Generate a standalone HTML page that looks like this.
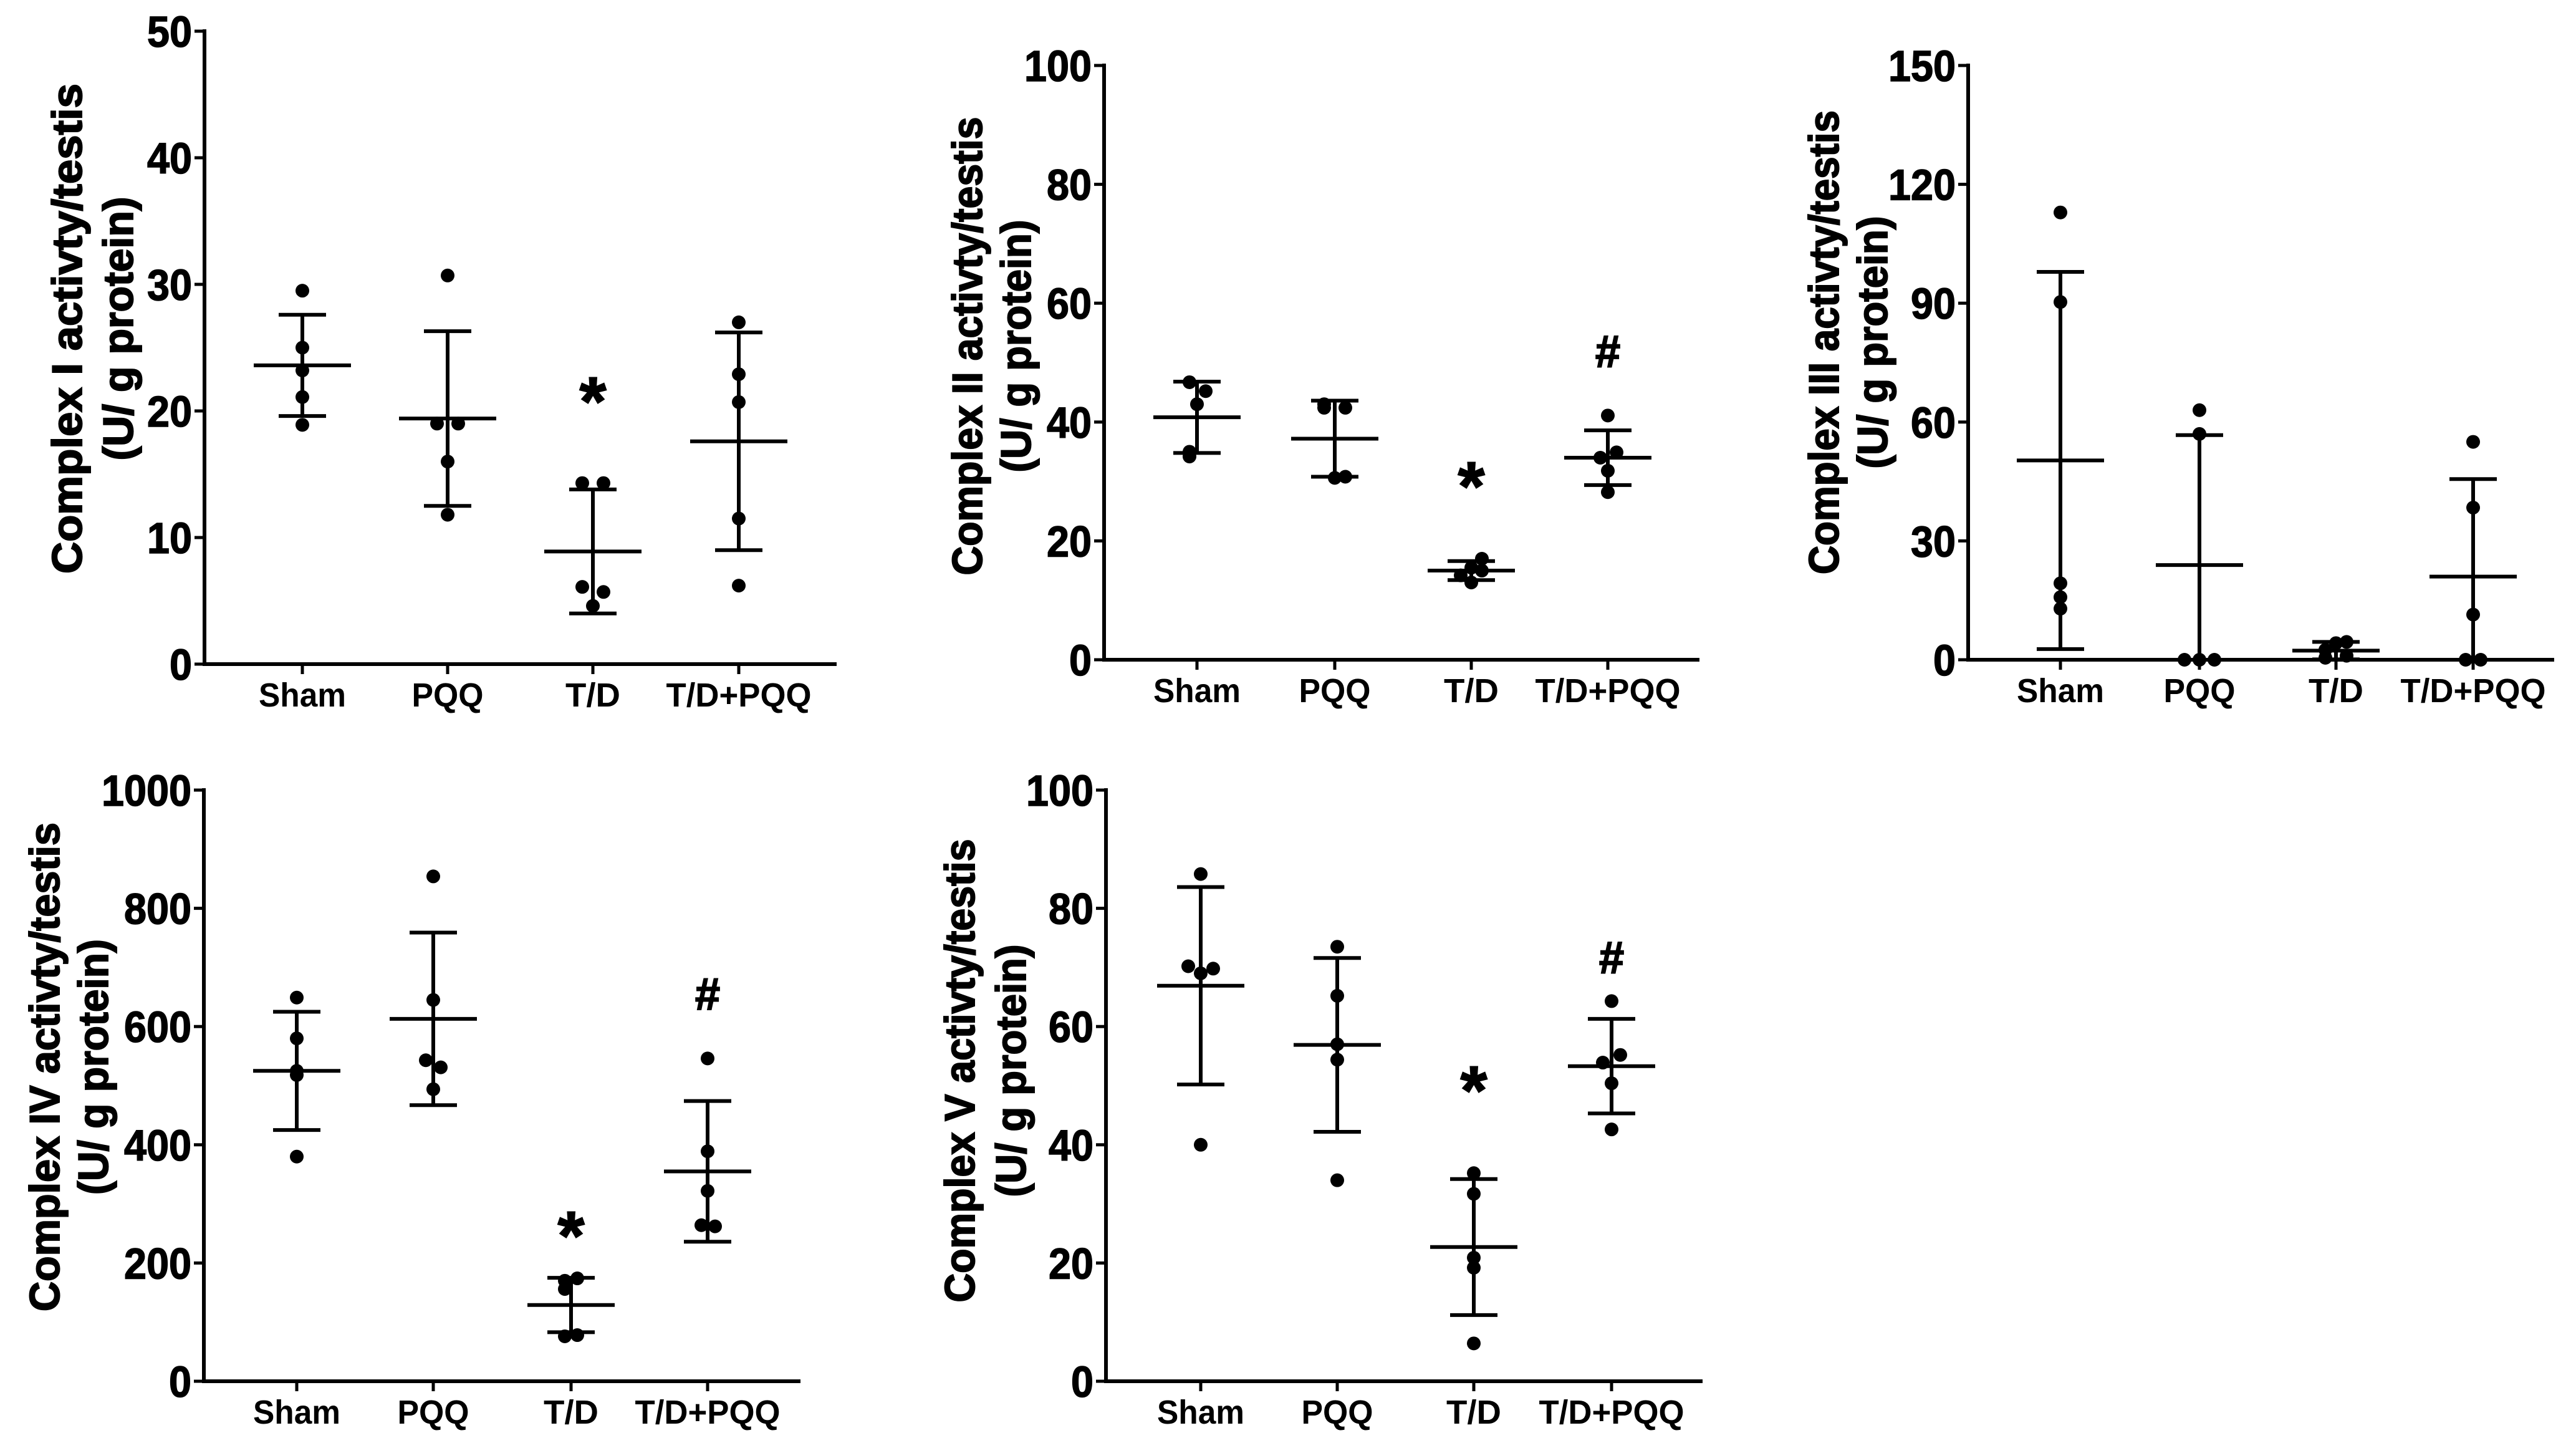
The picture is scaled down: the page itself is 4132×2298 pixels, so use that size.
<!DOCTYPE html>
<html><head><meta charset="utf-8"><style>
html,body{margin:0;padding:0;background:#fff;}
svg{display:block;}
</style></head><body>
<svg id="fig" xmlns="http://www.w3.org/2000/svg" width="4132" height="2298" viewBox="0 0 4132 2298"></svg>
<script>
const categories = ["Sham","PQQ","T/D","T/D+PQQ"];

const p1Points = [[29.5,25.0,23.2,21.1,18.9],[30.7,19.0,19.0,16.0,11.8],[14.3,14.3,6.1,5.7,4.6],[27.0,22.9,20.7,11.5,6.2]];
const p1Means = [23.6,19.4,8.9,17.6];
const p1Sd = [4.0,6.9,4.9,8.6];
const p1Ticks = [0,10,20,30,40,50];
const p1Marks = ["","","*",""];
const p1MarkVals = [0,0,21.6,0];

const p2Points = [[46.7,45.2,43.0,35.0,34.2],[43.0,42.4,42.4,30.8,30.6],[17.0,15.5,15.0,14.2,13.0],[41.1,34.9,34.0,31.8,28.2]];
const p2Means = [40.8,37.2,15.0,34.0];
const p2Sd = [6.0,6.4,1.6,4.6];
const p2Ticks = [0,20,40,60,80,100];
const p2Marks = ["","","*","#"];
const p2MarkVals = [0,0,31,52];

const p3Points = [[112.9,90.3,19.3,15.8,12.9],[63.0,57.0,0,0,0],[4.5,4.2,2.5,1.0,0.5],[55.0,38.4,11.4,0,0]];
const p3Means = [50.3,23.9,2.3,21.0];
const p3Sd = [47.6,32.8,2.2,24.6];
const p3Ticks = [0,30,60,90,120,150];
const p3Marks = ["","","",""];
const p3MarkVals = [0,0,0,0];

const p4Points = [[649,580,525,518,380],[854,645,543,531,494],[174,170,156,78,76],[546,389,322,264,262]];
const p4Means = [525,613,129,355];
const p4Sd = [100,146,46,119];
const p4Ticks = [0,200,400,600,800,1000];
const p4Marks = ["","","*","#"];
const p4MarkVals = [0,0,264,656];

const p5Points = [[85.8,70.2,69.8,69.0,40.0],[73.5,65.2,57.0,54.4,34.0],[35.2,31.7,20.9,19.2,6.4],[64.3,55.2,53.9,50.4,42.6]];
const p5Means = [66.9,56.9,22.7,53.3];
const p5Sd = [16.7,14.7,11.5,8.0];
const p5Ticks = [0,20,40,60,80,100];
const p5Marks = ["","","*","#"];
const p5MarkVals = [0,0,51,71.8];

const NS="http://www.w3.org/2000/svg";
const svg=document.getElementById('fig');
function mk(tag,attrs,parent){const e=document.createElementNS(NS,tag);for(const k in attrs)e.setAttribute(k,attrs[k]);(parent||svg).appendChild(e);return e;}

const panels=[
 {id:"complex-i",points:p1Points,means:p1Means,sd:p1Sd,ticks:p1Ticks,marks:p1Marks,markVals:p1MarkVals,
  ax:328,top:50,zero:1065,xEnd:1342,cats:[485,718,951,1185],meanHalf:78,
  jit:[[0,0,0,0,0],[0,-17,17,0,0],[-17,17,-17,17,0],[0,0,0,0,0]],
  t1:"Complex I activty/testis",t2:"(U/ g protein)",tx1:108,tx2:190,ty:527,tl1:786,tl2:423},
 {id:"complex-ii",points:p2Points,means:p2Means,sd:p2Sd,ticks:p2Ticks,marks:p2Marks,markVals:p2MarkVals,
  ax:1771,top:105,zero:1058,xEnd:2726,cats:[1920,2141,2360,2579],meanHalf:70,
  jit:[[-12,14,0,-12,-12],[-17,17,-17,17,0],[17,0,17,-17,0],[0,14,-12,0,0]],
  t1:"Complex II activty/testis",t2:"(U/ g protein)",tx1:1552,tx2:1630,ty:555,tl1:735,tl2:405},
 {id:"complex-iii",points:p3Points,means:p3Means,sd:p3Sd,ticks:p3Ticks,marks:p3Marks,markVals:p3MarkVals,
  ax:3157,top:105,zero:1058,xEnd:4097,cats:[3305,3528,3747,3967],meanHalf:70,
  jit:[[0,0,0,0,0],[0,0,-24,0,24],[17,0,-17,17,-17],[0,0,0,-12,12]],
  t1:"Complex III activty/testis",t2:"(U/ g protein)",tx1:2926,tx2:3004,ty:549,tl1:744,tl2:405},
 {id:"complex-iv",points:p4Points,means:p4Means,sd:p4Sd,ticks:p4Ticks,marks:p4Marks,markVals:p4MarkVals,
  ax:327,top:1267,zero:2215,xEnd:1284,cats:[476,695,916,1135],meanHalf:70,
  jit:[[0,0,0,0,0],[0,0,-12,12,0],[10,-10,-10,10,-10],[0,0,0,-10,12]],
  t1:"Complex IV  activty/testis",t2:"(U/ g protein)",tx1:72,tx2:150,ty:1711,tl1:784,tl2:410},
 {id:"complex-v",points:p5Points,means:p5Means,sd:p5Sd,ticks:p5Ticks,marks:p5Marks,markVals:p5MarkVals,
  ax:1774,top:1267,zero:2215,xEnd:2731,cats:[1926,2145,2364,2585],meanHalf:70,
  jit:[[0,-20,20,0,0],[0,0,0,0,0],[0,0,0,0,0],[0,14,-14,0,0]],
  t1:"Complex V activty/testis",t2:"(U/ g protein)",tx1:1540,tx2:1622,ty:1717,tl1:743,tl2:405}
];

const numFont='"Liberation Sans Narrow","Liberation Sans",sans-serif';
const titleFont='"Liberation Sans",sans-serif';

panels.forEach(p=>{
  const g=mk('g',{});
  
  
  const maxV=p.ticks[p.ticks.length-1];
  const y=v=>p.zero-(v/maxV)*(p.zero-p.top);
  const ya=mk('line',{x1:p.ax,y1:p.top-3,x2:p.ax,y2:p.zero+3,stroke:'#000','stroke-width':6},g);
  
  
  const xa=mk('line',{x1:p.ax-3,y1:p.zero,x2:p.xEnd,y2:p.zero,stroke:'#000','stroke-width':6},g);
  
  
  p.ticks.forEach(t=>{
    mk('line',{x1:p.ax-16,y1:y(t),x2:p.ax,y2:y(t),stroke:'#000','stroke-width':5},g);
    const s=String(t);
    const tl=mk('text',{x:p.ax-20,y:y(t)+25,'text-anchor':'end','font-family':numFont,'font-weight':'bold','font-size':70,textLength:36*s.length,lengthAdjust:'spacingAndGlyphs',fill:'#000',stroke:'#000','stroke-width':1.5},g);
    tl.textContent=s;
    
    
  });
  const catW={"Sham":140,"PQQ":115,"T/D":88,"T/D+PQQ":233};
  categories.forEach((c,i)=>{
    const cx=p.cats[i];
    mk('line',{x1:cx,y1:p.zero,x2:cx,y2:p.zero+16,stroke:'#000','stroke-width':5},g);
    const cl=mk('text',{x:cx,y:p.zero+68,'text-anchor':'middle','font-family':titleFont,'font-weight':'bold','font-size':54,textLength:catW[c],lengthAdjust:'spacingAndGlyphs',fill:'#000'},g);
    cl.textContent=c;
    
    
    const m=p.means[i], sd=p.sd[i];
    const hi=y(m+sd), lo=y(Math.max(0,m-sd));
    const eb=mk('line',{x1:cx,y1:hi,x2:cx,y2:lo,stroke:'#000','stroke-width':6},g);
    
    
    mk('line',{x1:cx-38,y1:hi,x2:cx+38,y2:hi,stroke:'#000','stroke-width':6},g);
    if(m-sd>0) mk('line',{x1:cx-38,y1:lo,x2:cx+38,y2:lo,stroke:'#000','stroke-width':6},g);
    const ml=mk('line',{x1:cx-p.meanHalf,y1:y(m),x2:cx+p.meanHalf,y2:y(m),stroke:'#000','stroke-width':6},g);
    
    
    p.points[i].forEach((v,k)=>{
      const d=mk('circle',{cx:cx+p.jit[i][k],cy:y(v),r:11,fill:'#000'},g);
      
      
    });
    if(p.marks[i]){
      const star=p.marks[i]==="*";
      const mt=mk('text',{x:cx,y:y(p.markVals[i])+(star?55:26),'text-anchor':'middle','font-family':titleFont,'font-weight':'bold','font-size':star?110:72,fill:'#000',stroke:'#000','stroke-width':2},g);
      mt.textContent=p.marks[i];
      
      
    }
  });
  const t1=mk('text',{x:p.tx1,y:p.ty,transform:`rotate(-90 ${p.tx1} ${p.ty})`,'text-anchor':'middle','dominant-baseline':'central','font-family':titleFont,'font-weight':'bold','font-size':68,textLength:p.tl1,lengthAdjust:'spacingAndGlyphs',fill:'#000',stroke:'#000','stroke-width':2},g);
  t1.textContent=p.t1;
  
  
  const t2=mk('text',{x:p.tx2,y:p.ty,transform:`rotate(-90 ${p.tx2} ${p.ty})`,'text-anchor':'middle','dominant-baseline':'central','font-family':titleFont,'font-weight':'bold','font-size':68,textLength:p.tl2,lengthAdjust:'spacingAndGlyphs',fill:'#000',stroke:'#000','stroke-width':2},g);
  t2.textContent=p.t2;
  
  
});
</script>
</body></html>
